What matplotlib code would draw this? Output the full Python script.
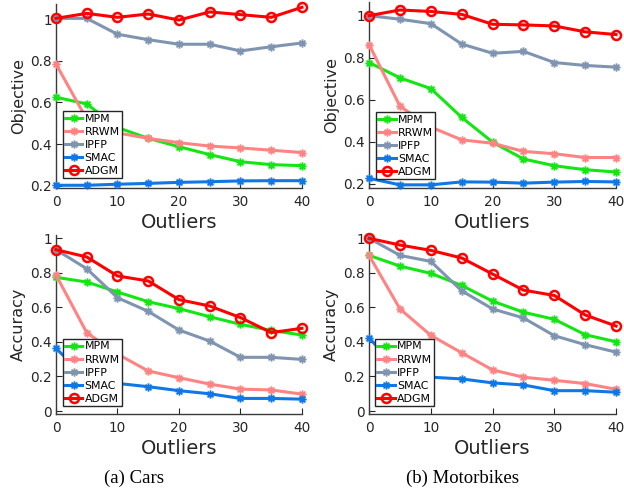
import matplotlib
matplotlib.use("Agg")
import matplotlib.pyplot as plt
from matplotlib.path import Path
from matplotlib.ticker import FormatStrFormatter


outliers = [0, 5, 10, 15, 20, 25, 30, 35, 40]
methods = ["MPM", "RRWM", "IPFP", "SMAC", "ADGM"]

# Cars - objective
cars_obj_mpm = [0.625, 0.593, 0.48, 0.428, 0.388, 0.35, 0.316, 0.302, 0.297]
cars_obj_rrwm = [0.784, 0.52, 0.454, 0.428, 0.407, 0.391, 0.382, 0.371, 0.36]
cars_obj_ipfp = [1.003, 1.003, 0.927, 0.901, 0.879, 0.879, 0.847, 0.867, 0.885]
cars_obj_smac = [0.203, 0.203, 0.208, 0.212, 0.217, 0.22, 0.224, 0.225, 0.225]
cars_obj_adgm = [1.003, 1.027, 1.008, 1.024, 0.995, 1.034, 1.021, 1.008, 1.056]

# Motorbikes - objective
moto_obj_mpm = [0.777, 0.704, 0.653, 0.516, 0.398, 0.318, 0.286, 0.267, 0.256]
moto_obj_rrwm = [0.862, 0.569, 0.47, 0.409, 0.393, 0.354, 0.343, 0.325, 0.325]
moto_obj_ipfp = [1.0, 0.983, 0.962, 0.865, 0.821, 0.83, 0.777, 0.763, 0.755]
moto_obj_smac = [0.226, 0.195, 0.195, 0.209, 0.208, 0.203, 0.208, 0.211, 0.209]
moto_obj_adgm = [1.0, 1.027, 1.02, 1.006, 0.959, 0.956, 0.951, 0.923, 0.91]

# Cars - accuracy
cars_acc_mpm = [0.774, 0.747, 0.689, 0.633, 0.593, 0.546, 0.502, 0.467, 0.44]
cars_acc_rrwm = [0.788, 0.454, 0.33, 0.232, 0.193, 0.156, 0.127, 0.122, 0.098]
cars_acc_ipfp = [0.934, 0.824, 0.656, 0.577, 0.469, 0.405, 0.311, 0.311, 0.299]
cars_acc_smac = [0.363, 0.19, 0.16, 0.141, 0.118, 0.1, 0.073, 0.073, 0.069]
cars_acc_adgm = [0.934, 0.892, 0.782, 0.753, 0.645, 0.608, 0.541, 0.454, 0.479]

# Motorbikes - accuracy
moto_acc_mpm = [0.901, 0.839, 0.797, 0.727, 0.636, 0.572, 0.531, 0.442, 0.401]
moto_acc_rrwm = [0.901, 0.591, 0.438, 0.337, 0.238, 0.196, 0.178, 0.159, 0.126]
moto_acc_ipfp = [1.0, 0.901, 0.866, 0.696, 0.591, 0.539, 0.436, 0.384, 0.341]
moto_acc_smac = [0.423, 0.23, 0.196, 0.186, 0.163, 0.151, 0.118, 0.118, 0.109]
moto_acc_adgm = [1.0, 0.961, 0.93, 0.886, 0.793, 0.7, 0.669, 0.556, 0.492]

COLORS = {
    "MPM": "#14e614",
    "RRWM": "#ff8383",
    "IPFP": "#7f94b0",
    "SMAC": "#0f78e6",
    "ADGM": "#ff0000",
}

# matlab style '*' marker: plus and cross strokes
_d = 0.7071
AST = Path(
    [(-1, 0), (1, 0), (0, -1), (0, 1), (-_d, -_d), (_d, _d), (-_d, _d), (_d, -_d)],
    [Path.MOVETO, Path.LINETO] * 4,
)


def draw(ax, series, ylabel, ylim, yticks, leg_anchor):
    for name, vals in zip(methods, series):
        if name == "ADGM":
            ax.plot(outliers, vals, color=COLORS[name], lw=2.2, marker="o",
                    ms=6.5, mfc="none", mew=1.8, label=name, clip_on=False, zorder=4)
        else:
            ax.plot(outliers, vals, color=COLORS[name], lw=2.2, marker=AST,
                    ms=6, mew=1.3, mfc="none", label=name, clip_on=False, zorder=3)
    ax.set_xlim(0, 40)
    ax.set_ylim(*ylim)
    ax.set_xticks([0, 10, 20, 30, 40])
    ax.set_yticks(yticks)
    ax.yaxis.set_major_formatter(FormatStrFormatter("%g"))
    ax.set_xlabel("Outliers", fontsize=14, color="#262626", labelpad=3)
    ax.set_ylabel(ylabel, fontsize=11.5, color="#262626", labelpad=3)
    for s in ("top", "right"):
        ax.spines[s].set_visible(False)
    for s in ("left", "bottom"):
        ax.spines[s].set_color("#3a3a3a")
        ax.spines[s].set_linewidth(1.0)
    ax.tick_params(direction="in", length=4, labelsize=9.8, colors="#262626")
    ax.tick_params(axis="x", pad=5)
    ax.tick_params(axis="y", pad=3)
    leg = ax.legend(loc="lower left", bbox_to_anchor=leg_anchor, borderaxespad=0,
                    fontsize=7.9, fancybox=False, framealpha=1, edgecolor="#262626",
                    handlelength=1.6, handletextpad=0.2, labelspacing=0.28,
                    borderpad=0.2)
    leg.get_frame().set_linewidth(1.0)
    leg.set_zorder(10)


def main():
    fig = plt.figure(figsize=(6.24, 4.98), dpi=100)

    ax_tl = fig.add_axes([0.0897, 0.6225, 0.3942, 0.3695])
    ax_tr = fig.add_axes([0.5915, 0.6225, 0.3958, 0.3735])
    ax_bl = fig.add_axes([0.0897, 0.1687, 0.3942, 0.3594])
    ax_br = fig.add_axes([0.5915, 0.1687, 0.3958, 0.3594])

    draw(ax_tl, [cars_obj_mpm, cars_obj_rrwm, cars_obj_ipfp, cars_obj_smac, cars_obj_adgm],
         "Objective", (0.19, 1.072), [0.2, 0.4, 0.6, 0.8, 1.0], (0.027, 0.054))
    draw(ax_tr, [moto_obj_mpm, moto_obj_rrwm, moto_obj_ipfp, moto_obj_smac, moto_obj_adgm],
         "Objective", (0.18, 1.065), [0.2, 0.4, 0.6, 0.8, 1.0], (0.028, 0.048))
    draw(ax_bl, [cars_acc_mpm, cars_acc_rrwm, cars_acc_ipfp, cars_acc_smac, cars_acc_adgm],
         "Accuracy", (-0.017, 1.019), [0, 0.2, 0.4, 0.6, 0.8, 1.0], (0.027, 0.045))
    draw(ax_br, [moto_acc_mpm, moto_acc_rrwm, moto_acc_ipfp, moto_acc_smac, moto_acc_adgm],
         "Accuracy", (-0.017, 1.019), [0, 0.2, 0.4, 0.6, 0.8, 1.0], (0.024, 0.045))

    fig.text(134 / 624, 1 - 478 / 498, "(a) Cars", family="Liberation Serif",
             fontsize=13.5, ha="center", va="center")
    fig.text(462 / 624, 1 - 478 / 498, "(b) Motorbikes", family="Liberation Serif",
             fontsize=13.5, ha="center", va="center")

    fig.savefig("out.png", dpi=100, facecolor="white")
    plt.close(fig)


if __name__ == "__main__":
    main()
